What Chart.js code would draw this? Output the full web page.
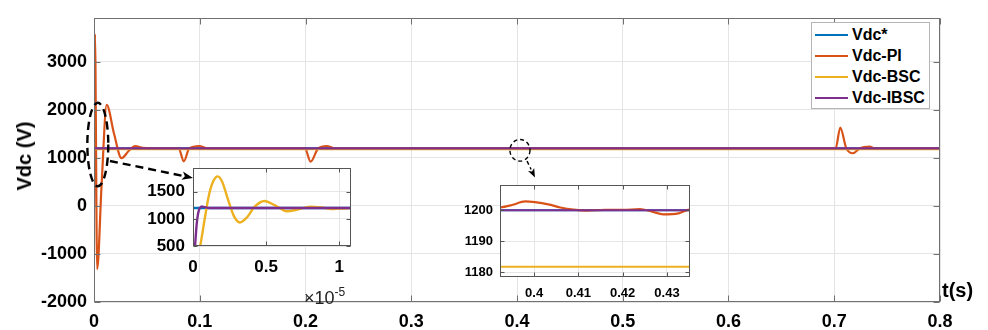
<!DOCTYPE html>
<html><head><meta charset="utf-8">
<script src="https://cdn.jsdelivr.net/npm/chart.js@4.4.0/dist/chart.umd.min.js"></script>
<style>
html,body{margin:0;padding:0;background:#fff;}
#wrap{position:relative;width:988px;height:330px;overflow:hidden;font-family:Arial,"Liberation Sans",sans-serif;}
canvas{position:absolute;}
#main{left:0;top:0;}
#in1{left:135px;top:150px;}
#in2{left:455px;top:170px;}
.lbl{position:absolute;font-weight:bold;color:#000;white-space:nowrap;line-height:1;}
#ytitle{left:24px;top:156px;font-size:20px;transform:translate(-50%,-50%) rotate(-90deg);}
#xtitle{left:942px;top:280px;font-size:20px;}
#mult{left:304px;top:286px;font-size:18px;font-weight:normal;color:#222;}
#mult sup{font-size:12px;vertical-align:8px;}
#legend{position:absolute;left:811px;top:22px;width:119px;height:87px;border:1px solid #b5b5b5;background:#fff;box-sizing:border-box;}
.row{position:absolute;left:3px;width:112px;height:20px;}
.row i{position:absolute;left:0;top:9px;width:33px;height:2px;}
.row span{position:absolute;left:37px;top:1px;font-size:16px;font-weight:bold;line-height:18px;color:#000;white-space:nowrap;}
</style></head>
<body>
<div id="wrap">
<canvas id="main" width="988" height="330"></canvas>
<canvas id="in1" width="225" height="125"></canvas>
<canvas id="in2" width="245" height="135"></canvas>
<div class="lbl" id="ytitle">Vdc (V)</div>
<div class="lbl" id="xtitle">t(s)</div>
<div class="lbl" id="mult">×10<sup>-5</sup></div>
<div id="legend"></div>
</div>
<script>
// ---------- data ----------
const seriesNames = ["Vdc*", "Vdc-PI", "Vdc-BSC", "Vdc-IBSC"];
const seriesColors = ["#0072BD", "#D95319", "#EDB120", "#7E2F8E"];

const tRef = [0, 0.8];
const vRef = [1200, 1200];

const tPI = [0, 0.0009, 0.0030, 0.0072, 0.0120, 0.0190, 0.0260, 0.0330, 0.0390, 0.0460, 0.0550,
  0.0800, 0.0850, 0.0900, 0.0995, 0.1060, 0.1100,
  0.1995, 0.2048, 0.2120, 0.2200, 0.2270, 0.2320,
  0.3800, 0.3923, 0.3950, 0.3980, 0.4002, 0.4032, 0.4059, 0.4089, 0.4120, 0.4160, 0.4200, 0.4239, 0.4265, 0.4292, 0.4326, 0.4351, 0.4400,
  0.7013, 0.7057, 0.7114, 0.7177, 0.7240, 0.7335, 0.7380, 0.8];
const vPI = [0, 3580, -1315, 450, 2105, 1500, 998, 1150, 1250, 1210, 1200,
  1200, 930, 1200, 1250, 1205, 1200,
  1200, 922, 1200, 1250, 1203, 1200,
  1200, 1200.9, 1201.7, 1202.85, 1202.6, 1201.9, 1200.9, 1200.2, 1199.9, 1200.1, 1200.1, 1200.4, 1199.6, 1198.7, 1199.0, 1200.2, 1200,
  1200, 1633, 1200, 1099, 1200, 1235, 1200, 1200];

const tBSC = [0, 4.9e-7, 8e-7, 1.1e-6, 1.4e-6, 1.69e-6, 2.0e-6, 2.4e-6, 2.8e-6, 3.2e-6, 3.7e-6, 4.2e-6, 4.88e-6,
  5.6e-6, 6.4e-6, 7.2e-6, 8.0e-6, 8.8e-6, 9.6e-6, 1.05e-5, 1.2e-5, 2e-5, 0.001, 0.8];
const vBSC = [0, 500, 1000, 1450, 1700, 1783, 1680, 1350, 1050, 933, 1030, 1220, 1330,
  1250, 1140, 1175, 1225, 1210, 1180, 1195, 1200, 1190, 1181.8, 1181.8];

const tIBSC = [0, 1.4e-7, 2.5e-7, 3.5e-7, 4.5e-7, 6e-7, 8e-7, 1.1e-6, 0.8];
const vIBSC = [0, 500, 900, 1100, 1190, 1230, 1215, 1200, 1200];

const mainXTicks = [0, 0.1, 0.2, 0.3, 0.4, 0.5, 0.6, 0.7, 0.8];
const mainYTicks = [-2000, -1000, 0, 1000, 2000, 3000];
const in1XTicks = [0, 0.5e-5, 1e-5];
const in1YTicks = [500, 1000, 1500];
const in2XTicks = [0.40, 0.41, 0.42, 0.43];
const in2YTicks = [1180, 1190, 1200];

// ---------- helpers ----------
const FONT = 'Arial, "Liberation Sans", sans-serif';
const zip = (ts, vs) => ts.map((t, i) => ({x: t, y: vs[i]}));
const seriesT = [tRef, tPI, tBSC, tIBSC];
const seriesV = [vRef, vPI, vBSC, vIBSC];
const drawOrder = [3, 2, 1, 0];

function makeDatasets(lw, include) {
  return seriesNames.map((n, i) => ({
    label: n,
    data: zip(seriesT[i], seriesV[i]),
    borderColor: seriesColors[i],
    borderWidth: lw,
    pointRadius: 0,
    fill: false,
    cubicInterpolationMode: 'monotone',
    order: drawOrder[i],
    hidden: include ? !include.includes(i) : false
  }));
}

const frame = {
  id: 'frame',
  beforeDraw(chart, args, o) {
    if (!o.fill) return;
    const {ctx, chartArea: a} = chart;
    ctx.save(); ctx.fillStyle = '#fff';
    ctx.fillRect(a.left, a.top, a.right - a.left, a.bottom - a.top);
    ctx.restore();
  },
  afterDatasetsDraw(chart, args, o) {
    const {ctx, chartArea: a, scales} = chart;
    ctx.save();
    ctx.strokeStyle = o.color; ctx.lineWidth = 1;
    const L = Math.round(a.left) + 0.5, T = Math.round(a.top) + 0.5;
    const R = Math.round(a.right) - 0.5, B = Math.round(a.bottom) - 0.5;
    ctx.strokeRect(L, T, R - L, B - T);
    const tk = o.tick;
    ctx.beginPath();
    scales.x.ticks.forEach(t => {
      const x = Math.round(scales.x.getPixelForValue(t.value)) + 0.5;
      ctx.moveTo(x, B); ctx.lineTo(x, B - tk);
      ctx.moveTo(x, T); ctx.lineTo(x, T + tk);
    });
    scales.y.ticks.forEach(t => {
      const y = Math.round(scales.y.getPixelForValue(t.value)) + 0.5;
      ctx.moveTo(L, y); ctx.lineTo(L + tk, y);
      ctx.moveTo(R, y); ctx.lineTo(R - tk, y);
    });
    ctx.stroke();
    ctx.restore();
  }
};

// callouts (dashed zoom markers) in main-chart data units
const callouts = [
  {t: 0.0036, v: 1280, rt: 0.0099, rv: 870, lw: 2.4, dash: [8, 5], from: [0.0151, 937], to: [0.0936, 585], head: 11},
  {t: 0.4028, v: 1160, rt: 0.0095, rv: 225, lw: 1.4, dash: [4, 3], from: [0.4095, 937], to: [0.4170, 592], head: 9}
];
const calloutPlugin = {
  id: 'callouts',
  afterDraw(chart) {
    const {ctx, scales: {x, y}} = chart;
    ctx.save();
    ctx.strokeStyle = '#000'; ctx.fillStyle = '#000';
    callouts.forEach(c => {
      const cx = x.getPixelForValue(c.t), cy = y.getPixelForValue(c.v);
      const rx = Math.abs(x.getPixelForValue(c.t + c.rt) - cx);
      const ry = Math.abs(y.getPixelForValue(c.v + c.rv) - cy);
      ctx.lineWidth = c.lw; ctx.setLineDash(c.dash);
      ctx.beginPath(); ctx.ellipse(cx, cy, rx, ry, 0, 0, Math.PI * 2); ctx.stroke();
      const x1 = x.getPixelForValue(c.from[0]), y1 = y.getPixelForValue(c.from[1]);
      const x2 = x.getPixelForValue(c.to[0]), y2 = y.getPixelForValue(c.to[1]);
      const ang = Math.atan2(y2 - y1, x2 - x1);
      const hx = x2 - c.head * Math.cos(ang), hy = y2 - c.head * Math.sin(ang);
      ctx.beginPath(); ctx.moveTo(x1, y1); ctx.lineTo(hx, hy); ctx.stroke();
      ctx.setLineDash([]);
      const w = c.head * 0.38;
      ctx.beginPath();
      ctx.moveTo(x2, y2);
      ctx.lineTo(hx + w * Math.sin(ang), hy - w * Math.cos(ang));
      ctx.lineTo(hx + c.head * 0.25 * Math.cos(ang), hy + c.head * 0.25 * Math.sin(ang));
      ctx.lineTo(hx - w * Math.sin(ang), hy + w * Math.cos(ang));
      ctx.closePath(); ctx.fill();
    });
    ctx.restore();
  }
};

function axis(min, max, ticks, size, fontSize, pad, fmt, gridColor) {
  return {
    type: 'linear', min, max,
    afterBuildTicks: s => { s.ticks = ticks.map(v => ({value: v})); },
    afterFit: s => { if (s.isHorizontal()) s.height = size; else s.width = size; },
    ticks: {font: {family: FONT, size: fontSize, weight: 'bold'}, color: '#000', padding: pad,
      callback: v => fmt(v), autoSkip: false, maxRotation: 0},
    grid: {color: gridColor, drawTicks: false, lineWidth: 1},
    border: {display: false}
  };
}

const baseOpts = {
  responsive: false, animation: false, events: [],
  plugins: {legend: {display: false}, tooltip: {enabled: false}}
};

// ---------- main chart ----------
new Chart(document.getElementById('main'), {
  type: 'line',
  data: {datasets: makeDatasets(2.2)},
  options: Object.assign({}, baseOpts, {
    layout: {padding: {left: 0, top: 10, right: 48, bottom: 0}},
    scales: {
      x: axis(0, 0.8, mainXTicks, 28, 18, 9, v => String(+v.toFixed(2)), '#e4e4e4'),
      y: axis(-2000, 3920, mainYTicks, 94, 18, 7, v => String(v), '#e4e4e4')
    },
    plugins: Object.assign({}, baseOpts.plugins, {frame: {color: '#707070', tick: 6, fill: false}})
  }),
  plugins: [frame, calloutPlugin]
});

// ---------- inset 1 ----------
new Chart(document.getElementById('in1'), {
  type: 'line',
  data: {datasets: makeDatasets(2.4, [0, 2, 3])},
  options: Object.assign({}, baseOpts, {
    layout: {padding: {left: 0, top: 10, right: 9, bottom: 0}},
    scales: {
      x: axis(0, 1.08e-5, in1XTicks, 29, 17, 11, v => String(+(v * 1e5).toFixed(2)), '#e6e6e6'),
      y: axis(500, 1933, in1YTicks, 58, 17, 8, v => String(v), '#e6e6e6')
    },
    plugins: Object.assign({}, baseOpts.plugins, {frame: {color: '#555', tick: 4, fill: true}})
  }),
  plugins: [frame]
});

// ---------- inset 2 ----------
new Chart(document.getElementById('in2'), {
  type: 'line',
  data: {datasets: makeDatasets(2.2)},
  options: Object.assign({}, baseOpts, {
    layout: {padding: {left: 0, top: 6, right: 10, bottom: 0}},
    scales: {
      x: axis(0.3923, 0.4352, in2XTicks, 28, 13, 9, v => String(+v.toFixed(2)), '#e6e6e6'),
      y: axis(1178.5, 1208.2, in2YTicks, 45, 13, 7, v => String(v), '#e6e6e6')
    },
    plugins: Object.assign({}, baseOpts.plugins, {frame: {color: '#555', tick: 4, fill: true}})
  }),
  plugins: [frame]
});

// ---------- legend ----------
const lg = document.getElementById('legend');
seriesNames.forEach((n, i) => {
  const r = document.createElement('div');
  r.className = 'row';
  r.style.top = (2 + i * 21) + 'px';
  r.innerHTML = '<i style="background:' + seriesColors[i] + '"></i><span>' + n + '</span>';
  lg.appendChild(r);
});
</script>
</body></html>
